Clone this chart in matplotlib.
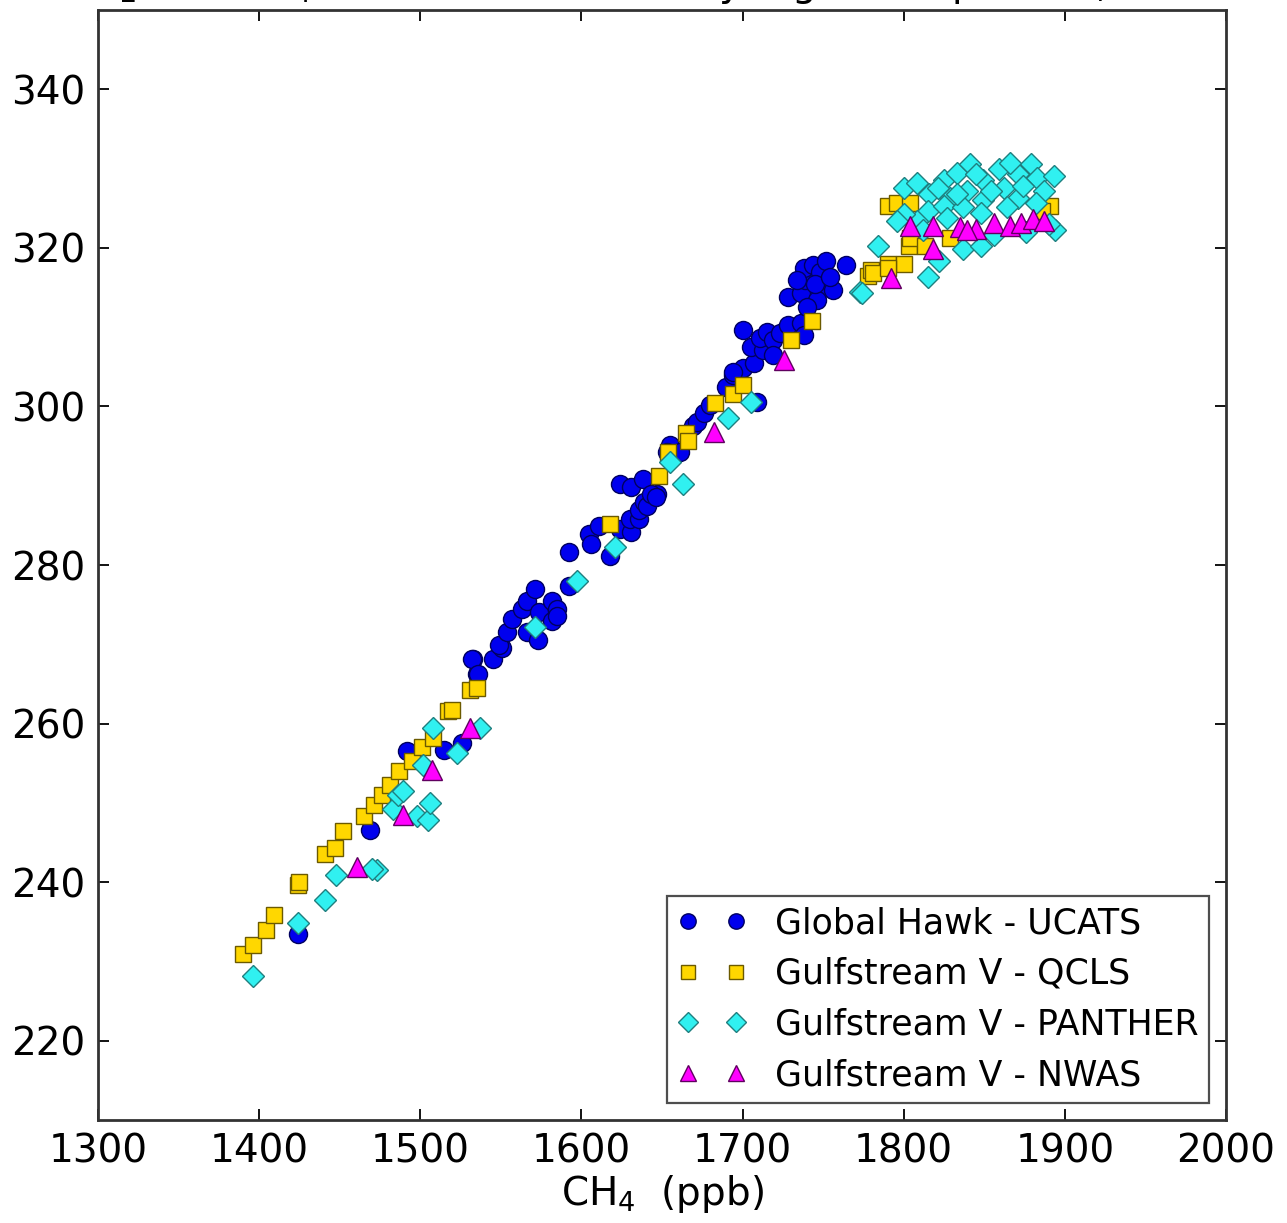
import matplotlib
matplotlib.use("Agg")
import matplotlib.pyplot as plt

# CH4 (ppb) / N2O (ppb) pairs for each aircraft instrument
ucats_ch4 = [1424, 1469, 1492, 1515, 1526, 1533, 1535, 1545, 1551,
             1532, 1536, 1549, 1554, 1557, 1563, 1566, 1571, 1574, 1582, 1585,
             1582, 1566, 1573, 1585, 1592, 1592, 1605, 1606, 1611, 1618, 1624,
             1631, 1630, 1636, 1636, 1639, 1641, 1647, 1624, 1631, 1638, 1655,
             1653, 1669, 1643, 1646, 1661, 1672, 1676, 1680, 1690, 1694, 1700,
             1707, 1709, 1694, 1700, 1705, 1713, 1711, 1715, 1719, 1719, 1723,
             1728, 1736, 1738, 1728, 1736, 1739, 1738, 1744, 1748, 1750, 1756,
             1746, 1740, 1764, 1752, 1734, 1745, 1754]
ucats_n2o = [233.4, 246.6, 256.6, 256.7, 257.6, 268.2, 266.3, 268.2, 269.5,
             268.2, 266.3, 269.9, 271.6, 273.2, 274.5, 275.5, 277.0, 274.1, 275.5, 274.5,
             272.9, 271.6, 270.5, 273.6, 281.7, 277.4, 283.9, 282.7, 284.9, 281.2, 284.5,
             284.2, 285.8, 285.8, 287.0, 288.0, 287.4, 288.9, 290.2, 289.9, 290.8, 295.2,
             294.2, 297.5, 288.9, 288.6, 294.2, 298.0, 299.2, 300.2, 302.5, 304.0, 304.9,
             305.5, 300.5, 304.4, 309.6, 307.5, 307.1, 308.6, 309.4, 308.4, 306.5, 309.3,
             310.3, 310.5, 309.0, 313.8, 314.3, 315.9, 317.5, 317.8, 316.9, 315.0, 314.7,
             313.4, 312.5, 317.8, 318.4, 315.9, 315.5, 316.3]

qcls_ch4 = [1390, 1396, 1404, 1409, 1424, 1425, 1441, 1447, 1452, 1465,
            1471, 1476, 1481, 1487, 1495, 1501, 1508, 1517, 1520, 1531, 1535,
            1618, 1648, 1654, 1665, 1666, 1683, 1694, 1700, 1730, 1743,
            1778, 1780, 1790, 1800, 1803, 1804, 1813, 1829, 1781, 1790,
            1790, 1796, 1804, 1891, 1886]
qcls_n2o = [231.0, 232.1, 234.0, 235.9, 239.6, 240.0, 243.5, 244.3, 246.5, 248.4,
            249.7, 251.0, 252.3, 254.0, 255.3, 257.0, 258.2, 261.6, 261.7, 264.2, 264.5,
            285.2, 291.2, 294.2, 296.7, 295.6, 300.4, 301.6, 302.7, 308.4, 310.8,
            316.5, 317.2, 318.0, 318.0, 320.3, 321.3, 320.3, 321.2, 316.8, 317.5,
            325.3, 325.6, 325.7, 325.3, 324.6]

panther_ch4 = [1396, 1424, 1441, 1448, 1473, 1470, 1483, 1486, 1489, 1498,
               1505, 1506, 1508, 1523, 1537, 1502, 1571, 1597, 1621, 1655,
               1663, 1691, 1705, 1773, 1784, 1774, 1815, 1822, 1837, 1848,
               1894, 1800, 1808, 1816, 1825, 1833, 1841, 1829, 1839, 1849,
               1859, 1849, 1862, 1871, 1879, 1883, 1893, 1887, 1871, 1815,
               1825, 1837, 1864, 1882, 1808, 1800, 1796, 1812, 1854, 1874,
               1845, 1866, 1833, 1821, 1827, 1848, 1856, 1876, 1890]
panther_n2o = [228.2, 234.9, 237.7, 240.9, 241.5, 241.6, 249.2, 251.0, 251.5, 248.4,
               247.8, 250.0, 259.4, 256.3, 259.4, 254.8, 272.2, 278.0, 282.3, 293.0,
               290.2, 298.6, 300.5, 314.4, 320.3, 314.3, 316.3, 318.4, 319.9, 320.3,
               322.2, 327.5, 328.2, 326.8, 328.5, 329.5, 330.6, 326.3, 327.2, 328.5,
               330.0, 326.0, 327.6, 329.3, 330.6, 328.8, 329.1, 327.2, 326.3, 324.7,
               325.3, 325.1, 325.1, 325.7, 323.4, 324.3, 323.4, 322.2, 327.2, 327.8,
               329.3, 330.7, 326.8, 327.6, 323.8, 324.4, 321.6, 322.0, 323.0]

nwas_ch4 = [1461, 1489, 1507, 1531, 1682, 1726, 1792, 1818, 1804, 1818,
            1835, 1845, 1856, 1866, 1873, 1880, 1887, 1839]
nwas_n2o = [241.9, 248.5, 254.2, 259.4, 296.8, 305.9, 316.2, 319.9, 322.8, 322.8,
            322.6, 322.4, 323.1, 322.8, 323.1, 323.7, 323.4, 322.2]

plt.rcParams['font.family'] = ['DejaVu Sans']

fig = plt.figure(figsize=(12.87, 12.23), dpi=100)
ax = fig.add_axes([0.0761, 0.0842, 0.8765, 0.9076])

ax.plot(ucats_ch4, ucats_n2o, 'o', color='#0000ee', mec='#000060', mew=1.0,
        ms=13, ls='none', label='Global Hawk - UCATS')
ax.plot(qcls_ch4, qcls_n2o, 's', color='#ffd700', mec='#6b5a00', mew=1.0,
        ms=12, ls='none', label='Gulfstream V - QCLS')
ax.plot(panther_ch4, panther_n2o, 'D', color='#30f0f0', mec='#1f7f7f', mew=1.0,
        ms=11.5, ls='none', label='Gulfstream V - PANTHER')
ax.plot(nwas_ch4, nwas_n2o, '^', color='#ff00ff', mec='#600060', mew=1.0,
        ms=14, ls='none', label='Gulfstream V - NWAS')

ax.set_xlim(1300, 2000)
ax.set_ylim(210, 350)
ax.set_xticks(range(1300, 2001, 100))
ax.set_yticks(range(220, 341, 20))
ax.tick_params(direction='in', length=8, width=1.3, labelsize=28, pad=9,
               top=True, right=True)
for s in ax.spines.values():
    s.set_linewidth(2.0)
    s.set_color('#333333')

ax.set_xlabel('CH$_4$  (ppb)', fontsize=28, labelpad=2)
# title sits mostly above the top edge of the canvas
ax.set_title('N$_2$O vs CH$_4$ 2014 tracer-tracer by-flight comparison, Guam',
             fontsize=28, pad=10)

leg = ax.legend(loc='lower right', numpoints=2, fontsize=25, fancybox=False,
                handlelength=2.0, handletextpad=0.8, borderpad=0.3,
                labelspacing=0.48, borderaxespad=0.5, markerscale=0.85,
                frameon=True)
leg.get_frame().set_edgecolor('#222222')
leg.get_frame().set_linewidth(1.6)

fig.savefig('out.png', dpi=100)
